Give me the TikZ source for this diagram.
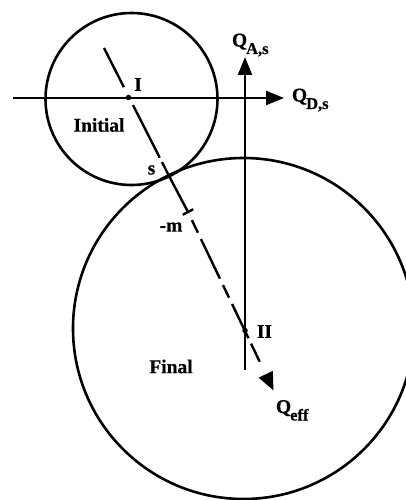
\documentclass[tikz,border=0pt]{standalone}
\usepackage{fontspec}
\setmainfont{Liberation Serif}[BoldFeatures={FakeBold=0.6}]
\usetikzlibrary{arrows.meta}
\newcommand{\Qsub}[1]{Q\kern-1pt\raisebox{-7.5pt}{\fontsize{16.5}{16.5}\selectfont #1}}
\begin{document}
\begin{tikzpicture}[x=1pt,y=-1pt,
  lbl/.style={font=\fontsize{19.5}{22}\selectfont\bfseries,inner sep=0pt,outer sep=0pt},
  ring/.style={line width=2.6pt},
  axisline/.style={line width=2.4pt,-{Triangle[length=18pt,width=14pt]}},
  dot/.style={circle,fill,inner sep=0pt,minimum size=5.5pt},
  effline/.style={line width=2.4pt}]
\useasboundingbox (0,0) rectangle (406,500);
\clip (0,0) rectangle (406,500);
\fill[white] (0,0) rectangle (406,500);

% circles
\draw[ring] (131.5,99) circle[radius=86pt];
\draw[ring] (243.5,328.5) circle[radius=170.5pt];

% axes
\coordinate (hstart) at (13,98);
\coordinate (hend) at (284,98);
\coordinate (vstart) at (245,370);
\coordinate (vend) at (245,57);
\draw[axisline] (hstart) -- (hend);
\draw[axisline] (vstart) -- (vend);

% points
\node[dot] (I) at (128.5,97.5) {};
\node[dot] (II) at (245,330.5) {};
\coordinate (top) at (104,48);
\coordinate (s) at (169.2,176.3);
\coordinate (m) at (188,212);
\coordinate (tickA) at (182.7,214.8);
\coordinate (tickB) at (193.3,209.2);
\coordinate (eff) at (273.5,390.5);

% effective line
\draw[effline,dash pattern=on 44pt off 20pt on 59pt off 5pt on 30pt] (top) -- (s);
\draw[effline] (s) -- (m);
\draw[effline] (tickA) -- (tickB);
\draw[effline,shorten <=9pt,
  dash pattern=on 14pt off 7pt on 44pt off 7pt on 14pt off 7pt on 38pt off 6pt on 20pt off 40pt,
  -{Triangle[length=18pt,width=15pt]}] (m) -- (eff);

% labels
\node[lbl] (lI) at (138,84.5) {I};
\node[lbl] (lInit) at (99,125) {Initial};
\node[lbl] (ls) at (151.5,170) {s};
\node[lbl] (lm) at (171,227) {-m};
\node[lbl] (lII) at (264.5,331.5) {II};
\node[lbl] (lFinal) at (171,366.5) {Final};
\node[lbl,anchor=base west] (lQA) at (232,46.5) {\Qsub{A,s}};
\node[lbl,anchor=base west] (lQD) at (292,101.5) {\Qsub{D,s}};
\node[lbl,anchor=base west] (lQE) at (276,413) {\Qsub{eff}};
\end{tikzpicture}
\end{document}
